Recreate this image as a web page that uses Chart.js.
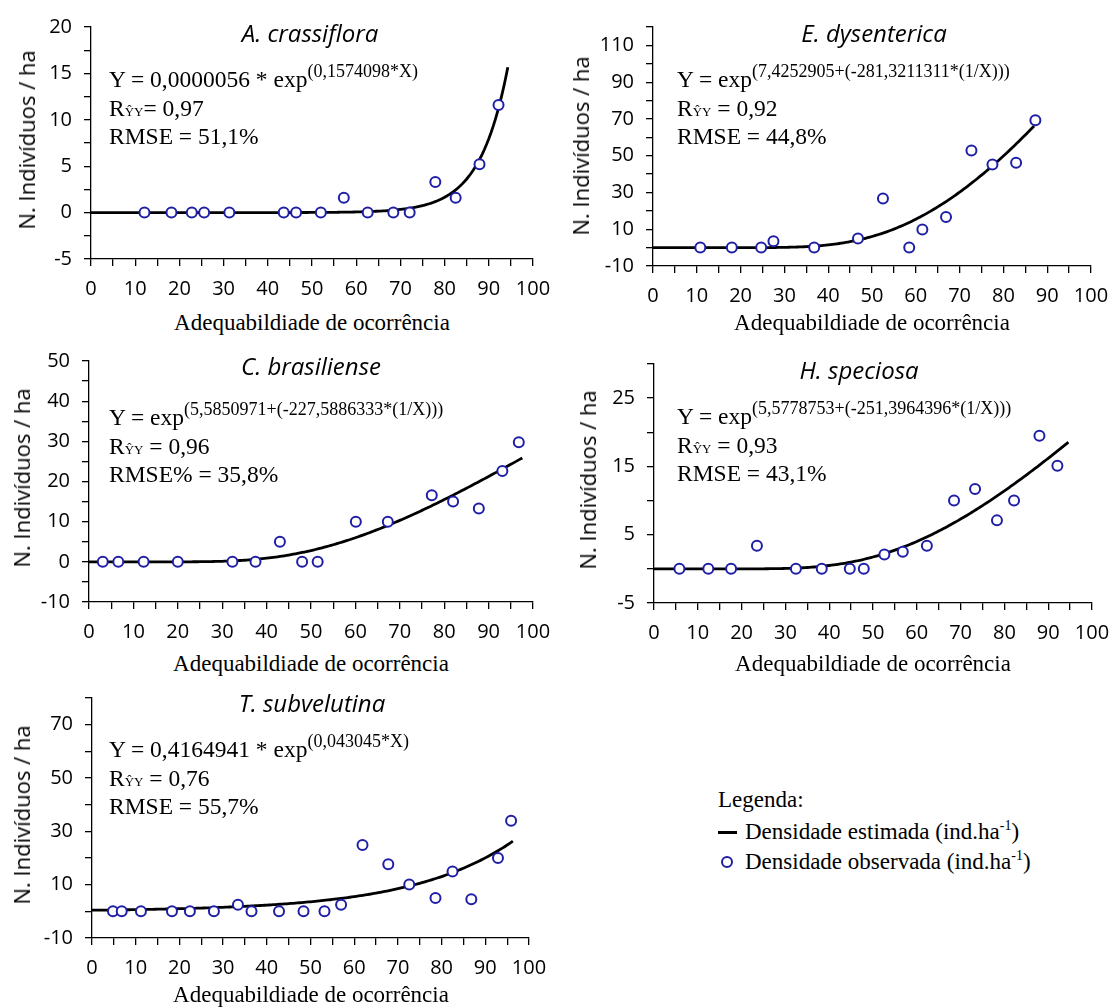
<!DOCTYPE html>
<html>
<head>
<meta charset="utf-8">
<script src="https://cdn.jsdelivr.net/npm/chart.js@4.4.1/dist/chart.umd.min.js"></script>
<style>
  html, body { margin: 0; padding: 0; background: #fff; }
  #fig { position: relative; width: 1115px; height: 1008px; overflow: hidden; background: #fff; }
  #fig canvas { position: absolute; }
  .t { position: absolute; white-space: nowrap; line-height: normal; color: #000; }
  .serif { font-family: 'Liberation Serif', 'Times New Roman', serif; }
  .sans { font-family: 'Open Sans', sans-serif; }
  .eq { font-size: 23.5px; }
  .eq sup { font-size: 18px; position: relative; top: -10px; vertical-align: baseline; line-height: 0; }
  .eq .rs { font-size: 13px; }
  .ttl { font-style: italic; font-size: 24px; transform: translateX(-50%); }
  .ylab { font-size: 22px; transform: translate(-50%, -50%) rotate(-90deg); }
  .xlab { font-size: 23px; transform: translate(-50%, -50%); }
  .leg { font-size: 23px; }
  .leg sup { font-size: 14px; position: relative; top: -9px; vertical-align: baseline; line-height: 0; }
</style>
</head>
<body>
<div id="fig"></div>
<script>
// ---- Observed densities (x: adequabilidade de ocorrência, y: indivíduos/ha) ----
const crassifloraX = [12.1, 18.2, 22.8, 25.6, 31.3, 43.6, 46.4, 52.0, 57.2, 62.6, 68.4, 72.1, 77.9, 82.5, 87.9, 92.2];
const crassifloraY = [0, 0, 0, 0, 0, 0, 0, 0, 1.6, 0, 0, 0, 3.3, 1.6, 5.2, 11.6];

const dysentericaX = [10.8, 18.0, 24.7, 27.5, 36.8, 46.8, 52.5, 58.5, 61.5, 66.9, 72.7, 77.5, 82.9, 87.3];
const dysentericaY = [0, 0, 0, 3.5, 0, 5.0, 26.7, 0, 9.9, 16.6, 52.8, 45.2, 46.1, 69.3];

const brasilienseX = [3.1, 6.6, 12.3, 20.0, 32.3, 37.5, 43.0, 48.0, 51.5, 60.1, 67.3, 77.2, 82.0, 87.8, 93.1, 96.8];
const brasilienseY = [0, 0, 0, 0, 0, 0, 5.0, 0, 0, 10.0, 10.0, 16.6, 15.0, 13.3, 22.6, 29.8];

const speciosaX = [5.8, 12.4, 17.6, 23.5, 32.4, 38.3, 44.7, 47.9, 52.6, 56.8, 62.3, 68.5, 73.3, 78.3, 82.2, 88.0, 92.1];
const speciosaY = [0, 0, 0, 3.4, 0, 0, 0, 0, 2.1, 2.5, 3.4, 10.0, 11.7, 7.1, 10.0, 19.5, 15.1];

const subvelutinaX = [4.8, 6.8, 11.2, 18.3, 22.4, 27.9, 33.4, 36.5, 42.8, 48.4, 53.2, 57.0, 61.9, 67.8, 72.6, 78.6, 82.5, 86.8, 92.9, 95.9];
const subvelutinaY = [0, 0, 0, 0, 0, 0, 2.5, 0, 0, 0, 0, 2.5, 24.9, 17.7, 10.1, 5.0, 14.9, 4.5, 20.0, 34.0];

// ---- Fitted models, as printed in each panel ----
// 'exp':  Y = a * exp(b*X)      'inv':  Y = exp(a + b*(1/X))
const crassifloraCoef = [0.0000056, 0.1574098];
const dysentericaCoef = [7.4252905, -281.3211311];
const brasilienseCoef = [5.5850971, -227.5886333];
const speciosaCoef    = [5.5778753, -251.3964396];
const subvelutinaCoef = [0.4164941, 0.043045];

// X range covered by each fitted line
const crassifloraRange = [0, 94.3];
const dysentericaRange = [0, 87.0];
const brasilienseRange = [0, 97.6];
const speciosaRange    = [0, 94.6];
const subvelutinaRange = [0, 96.3];

// ---- Tick labels ----
const xTickLabels = [0, 10, 20, 30, 40, 50, 60, 70, 80, 90, 100];
const crassifloraYLabels = [-5, 0, 5, 10, 15, 20];
const dysentericaYLabels = [-10, 10, 30, 50, 70, 90, 110];
const brasilienseYLabels = [-10, 0, 10, 20, 30, 40, 50];
const speciosaYLabels    = [-5, 5, 15, 25];
const subvelutinaYLabels = [-10, 10, 30, 50, 70];

// ---- Panel text ----
const speciesNames = ['A. crassiflora', 'E. dysenterica', 'C. brasiliense', 'H. speciosa', 'T. subvelutina'];
const eqMain = ['Y = 0,0000056 * exp', 'Y = exp', 'Y = exp', 'Y = exp', 'Y = 0,4164941 * exp'];
const eqExponent = ['(0,1574098*X)', '(7,4252905+(-281,3211311*(1/X)))', '(5,5850971+(-227,5886333*(1/X)))',
                    '(5,5778753+(-251,3964396*(1/X)))', '(0,043045*X)'];
const corrText = ['= 0,97', ' = 0,92', ' = 0,96', ' = 0,93', ' = 0,76'];
const errText = ['RMSE = 51,1%', 'RMSE = 44,8%', 'RMSE% = 35,8%', 'RMSE = 43,1%', 'RMSE = 55,7%'];
const xTitle = 'Adequabildiade de ocorrência';
const yTitle = 'N. Indivíduos / ha';

// ---- Layout of each panel (plot-area box in page pixels, axis extents) ----
const panels = [
  { xs: crassifloraX, ys: crassifloraY, kind: 'exp', coef: crassifloraCoef, range: crassifloraRange,
    yMin: -5, yMax: 20, yStep: 2.5, yLabels: crassifloraYLabels,
    area: { l: 91, r: 533, t: 21, b: 259 }, title: { x: 310, y: 42 }, eq: { x: 109, y: 87 },
    ylab: { x: 26, y: 140 }, xlab: { x: 312, y: 323 } },
  { xs: dysentericaX, ys: dysentericaY, kind: 'inv', coef: dysentericaCoef, range: dysentericaRange,
    yMin: -10, yMax: 120, yStep: 10, yLabels: dysentericaYLabels,
    area: { l: 653, r: 1091, t: 21, b: 266 }, title: { x: 874, y: 42 }, eq: { x: 677, y: 87 },
    ylab: { x: 580, y: 146 }, xlab: { x: 872, y: 323 } },
  { xs: brasilienseX, ys: brasilienseY, kind: 'inv', coef: brasilienseCoef, range: brasilienseRange,
    yMin: -10, yMax: 50, yStep: 5, yLabels: brasilienseYLabels,
    area: { l: 89, r: 533, t: 355, b: 602 }, title: { x: 311, y: 375 }, eq: { x: 109, y: 425 },
    ylab: { x: 21, y: 478 }, xlab: { x: 311, y: 664 } },
  { xs: speciosaX, ys: speciosaY, kind: 'inv', coef: speciosaCoef, range: speciosaRange,
    yMin: -5, yMax: 30, yStep: 5, yLabels: speciosaYLabels,
    area: { l: 654, r: 1092, t: 358, b: 603 }, title: { x: 859, y: 379 }, eq: { x: 677, y: 424 },
    ylab: { x: 587, y: 480 }, xlab: { x: 873, y: 664 } },
  { xs: subvelutinaX, ys: subvelutinaY, kind: 'exp', coef: subvelutinaCoef, range: subvelutinaRange,
    yMin: -10, yMax: 80, yStep: 10, yLabels: subvelutinaYLabels,
    area: { l: 92, r: 529, t: 692, b: 938 }, title: { x: 312, y: 712 }, eq: { x: 109, y: 757 },
    ylab: { x: 21, y: 815 }, xlab: { x: 311, y: 995 } }
];

const fig = document.getElementById('fig');
const BLUE = '#1f1fa6';
const SERIF_ASC = 0.891, SANS_ASC = 1.069;

function model(kind, coef, x) {
  if (kind === 'exp') return coef[0] * Math.exp(coef[1] * x);
  return Math.exp(coef[0] + coef[1] / x);   // x = 0 gives exp(-Infinity) = 0
}

function fittedLine(kind, coef, range) {
  const pts = [];
  for (let x = range[0]; x < range[1]; x += 0.5) pts.push({ x, y: model(kind, coef, x) });
  pts.push({ x: range[1], y: model(kind, coef, range[1]) });
  return pts;
}

function addText(html, cls, left, top) {
  const d = document.createElement('div');
  d.className = 't ' + cls;
  d.innerHTML = html;
  d.style.left = left + 'px';
  d.style.top = top + 'px';
  fig.appendChild(d);
  return d;
}

function hasLabel(list, v) { return list.some(l => Math.abs(l - v) < 1e-6); }

function axisStyle() {
  return {
    grid: { display: true, drawOnChartArea: false, drawTicks: true, tickLength: 7, color: '#000', lineWidth: 1.3 },
    border: { display: true, color: '#000', width: 1.3 }
  };
}

panels.forEach((p, i) => {
  const padL = 82, padT = 18, padR = 36, padB = 46;
  const w = p.area.r - p.area.l + padL + padR;
  const h = p.area.b - p.area.t + padT + padB;
  const cv = document.createElement('canvas');
  cv.width = w; cv.height = h;
  cv.style.left = (p.area.l - padL) + 'px';
  cv.style.top = (p.area.t - padT) + 'px';
  cv.style.width = w + 'px';
  cv.style.height = h + 'px';
  fig.appendChild(cv);

  const observed = p.xs.map((x, k) => ({ x, y: p.ys[k] }));
  const tickFont = { family: "'Open Sans', sans-serif", size: 20 };

  new Chart(cv, {
    type: 'scatter',
    data: {
      datasets: [
        { label: 'Densidade observada', data: observed, pointStyle: 'circle', pointRadius: 5,
          pointBorderWidth: 2, pointBorderColor: BLUE, pointBackgroundColor: '#fff', showLine: false },
        { label: 'Densidade estimada', data: fittedLine(p.kind, p.coef, p.range), showLine: true,
          pointRadius: 0, borderColor: '#000', borderWidth: 2.8, tension: 0, fill: false }
      ]
    },
    options: {
      responsive: false, animation: false, events: [],
      layout: { padding: { top: padT, right: padR, left: 0, bottom: 0 } },
      plugins: { legend: { display: false }, tooltip: { enabled: false }, title: { display: false } },
      scales: {
        x: Object.assign({
          type: 'linear', min: 0, max: 100,
          afterFit: s => { s.height = padB; },
          ticks: { stepSize: 5, autoSkip: false, maxRotation: 0, padding: 11, color: '#000', font: tickFont,
                   callback: v => hasLabel(xTickLabels, v) ? String(v) : '' }
        }, axisStyle()),
        y: Object.assign({
          type: 'linear', min: p.yMin, max: p.yMax,
          afterFit: s => { s.width = padL; },
          ticks: { stepSize: p.yStep, autoSkip: false, padding: 12, color: '#000', font: tickFont,
                   callback: v => hasLabel(p.yLabels, v) ? String(v) : '' }
        }, axisStyle())
      }
    }
  });

  // species name
  addText(speciesNames[i], 'sans ttl', p.title.x, p.title.y - SANS_ASC * 24);
  // fitted equation, correlation and error
  const lineGap = 28.5;
  const asc = SERIF_ASC * 23.5;
  addText(eqMain[i] + '<sup>' + eqExponent[i] + '</sup>', 'serif eq', p.eq.x, p.eq.y - asc);
  addText('R<span class="rs">ŶY</span>' + corrText[i], 'serif eq', p.eq.x, p.eq.y + lineGap - asc);
  addText(errText[i], 'serif eq', p.eq.x, p.eq.y + 2 * lineGap - asc);
  // axis titles
  addText(yTitle, 'sans ylab', p.ylab.x, p.ylab.y);
  addText(xTitle, 'serif xlab', p.xlab.x, p.xlab.y);
});

// ---- Legend ----
addText('Legenda:', 'serif leg', 718, 800 - 13);
const legLine = document.createElement('div');
legLine.style.cssText = 'position:absolute;left:718px;top:831px;width:19px;height:2.6px;background:#000;';
fig.appendChild(legLine);
const legDot = document.createElement('div');
legDot.style.cssText = 'position:absolute;left:721px;top:856px;width:8px;height:8px;border:2px solid ' + BLUE + ';border-radius:50%;background:#fff;';
fig.appendChild(legDot);
addText('Densidade estimada (ind.ha<sup>-1</sup>)', 'serif leg', 745, 832 - 13);
addText('Densidade observada (ind.ha<sup>-1</sup>)', 'serif leg', 745, 862 - 13);
</script>
</body>
</html>
